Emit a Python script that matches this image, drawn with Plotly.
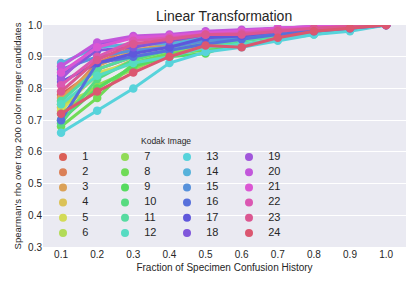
import colorsys
import plotly.graph_objects as go

# ---------------- data ----------------
fractions = [0.1, 0.2, 0.3, 0.4, 0.5, 0.6, 0.7, 0.8, 0.9, 1.0]
image_labels = [str(i) for i in range(1, 25)]

img1 = [0.78, 0.86, 0.90, 0.92, 0.95, 0.96, 0.97, 0.98, 0.99, 1.0]
img2 = [0.76, 0.88, 0.93, 0.95, 0.96, 0.97, 0.98, 0.99, 0.995, 1.0]
img3 = [0.77, 0.87, 0.92, 0.94, 0.95, 0.96, 0.975, 0.985, 0.99, 1.0]
img4 = [0.74, 0.84, 0.89, 0.92, 0.95, 0.96, 0.975, 0.985, 0.99, 1.0]
img5 = [0.73, 0.85, 0.88, 0.91, 0.94, 0.96, 0.97, 0.98, 0.99, 1.0]
img6 = [0.75, 0.80, 0.87, 0.91, 0.94, 0.955, 0.97, 0.98, 0.99, 1.0]
img7 = [0.72, 0.81, 0.86, 0.91, 0.93, 0.95, 0.97, 0.98, 0.99, 1.0]
img8 = [0.68, 0.77, 0.88, 0.91, 0.92, 0.95, 0.965, 0.98, 0.99, 1.0]
img9 = [0.70, 0.80, 0.87, 0.90, 0.91, 0.95, 0.965, 0.98, 0.99, 1.0]
img10 = [0.69, 0.83, 0.89, 0.92, 0.94, 0.96, 0.97, 0.98, 0.99, 1.0]
img11 = [0.76, 0.86, 0.90, 0.92, 0.94, 0.95, 0.965, 0.975, 0.985, 1.0]
img12 = [0.75, 0.84, 0.88, 0.90, 0.93, 0.94, 0.955, 0.97, 0.985, 1.0]
img13 = [0.66, 0.73, 0.80, 0.88, 0.915, 0.93, 0.95, 0.97, 0.98, 1.0]
img14 = [0.88, 0.93, 0.94, 0.94, 0.96, 0.97, 0.98, 0.99, 0.995, 1.0]
img15 = [0.86, 0.90, 0.92, 0.93, 0.95, 0.96, 0.975, 0.985, 0.99, 1.0]
img16 = [0.70, 0.88, 0.90, 0.92, 0.94, 0.955, 0.97, 0.98, 0.99, 1.0]
img17 = [0.82, 0.88, 0.91, 0.93, 0.96, 0.965, 0.98, 0.99, 0.995, 1.0]
img18 = [0.84, 0.92, 0.93, 0.95, 0.97, 0.975, 0.985, 0.99, 0.995, 1.0]
img19 = [0.83, 0.94, 0.96, 0.965, 0.975, 0.98, 0.99, 0.995, 1.0, 1.0]
img20 = [0.87, 0.945, 0.965, 0.97, 0.98, 0.985, 0.99, 0.995, 1.0, 1.0]
img21 = [0.85, 0.93, 0.96, 0.965, 0.975, 0.98, 0.99, 0.995, 1.0, 1.0]
img22 = [0.81, 0.90, 0.95, 0.96, 0.97, 0.975, 0.985, 0.99, 0.995, 1.0]
img23 = [0.79, 0.89, 0.94, 0.955, 0.97, 0.97, 0.98, 0.99, 0.995, 1.0]
img24 = [0.72, 0.79, 0.85, 0.90, 0.935, 0.93, 0.96, 0.98, 0.99, 1.0]

series = [img1, img2, img3, img4, img5, img6, img7, img8, img9, img10, img11, img12,
          img13, img14, img15, img16, img17, img18, img19, img20, img21, img22, img23, img24]

y_ticks = [0.3, 0.4, 0.5, 0.6, 0.7, 0.8, 0.9, 1.0]
legend_title = "Kodak Image"

# ---------------- seaborn-style hls palette ----------------
n = len(series)
colors = []
for i in range(n):
    h = (i / n + 0.01) % 1
    r, g, b = colorsys.hls_to_rgb(h, 0.6, 0.65)
    colors.append("#%02x%02x%02x" % (round(r * 255), round(g * 255), round(b * 255)))

FONT = "Liberation Sans, Arial, sans-serif"
TXT = "#262626"
fig = go.Figure()

for vals, lab, col in zip(series, image_labels, colors):
    fig.add_trace(go.Scatter(
        x=fractions, y=vals, mode="lines+markers", name=lab,
        line=dict(color=col, width=3), marker=dict(color=col, size=8.5),
        showlegend=False, hoverinfo="skip"))

# legend block (4 columns x 6 rows) drawn on a hidden overlay axis
rows_per_col = 6
leg_col = [i // rows_per_col for i in range(n)]
leg_row = [i % rows_per_col for i in range(n)]
fig.add_trace(go.Scatter(
    x=leg_col, y=leg_row, xaxis="x2", yaxis="y2", mode="markers",
    marker=dict(color=colors, size=8), showlegend=False, hoverinfo="skip"))
fig.add_trace(go.Scatter(
    x=[c + 0.31 for c in leg_col], y=leg_row, xaxis="x2", yaxis="y2", mode="text",
    text=image_labels, textposition="middle right",
    textfont=dict(family=FONT, size=11, color=TXT), showlegend=False, hoverinfo="skip"))

fig.update_layout(
    width=415, height=286,
    margin=dict(l=43, r=9, t=25, b=39),
    paper_bgcolor="white", plot_bgcolor="#EAEAF2",
    font=dict(family=FONT, size=10, color=TXT),
    hovermode=False,
    title=dict(text="Linear Transformation", x=0.54, xanchor="center",
               y=0.945, yanchor="middle", font=dict(family=FONT, size=14, color=TXT)),
    xaxis=dict(range=[0.05, 1.055], tickvals=fractions, ticktext=["%.1f" % v for v in fractions],
               showgrid=False, zeroline=False, showline=False, ticks="",
               tickfont=dict(size=10, color=TXT),
               title=dict(text="Fraction of Specimen Confusion History", standoff=4,
                          font=dict(size=10, color=TXT))),
    yaxis=dict(range=[0.3, 1.0], tickvals=y_ticks, ticktext=["%.1f" % v for v in y_ticks],
               showgrid=True, gridcolor="white", gridwidth=1, zeroline=False, showline=False,
               ticks="", tickfont=dict(size=10, color=TXT),
               title=dict(text="Spearman's rho over top 200 color merger candidates", standoff=4,
                          font=dict(size=9.5, color=TXT))),
    xaxis2=dict(overlaying="x", anchor="y2", range=[-0.3226, 5.5323], visible=False,
                fixedrange=True),
    yaxis2=dict(overlaying="y", anchor="x2", range=[5.921, -8.684], visible=False,
                fixedrange=True),
    annotations=[dict(text=legend_title, xref="x2", yref="y2", x=1.66, y=-1.05,
                      xanchor="center", yanchor="middle", showarrow=False,
                      font=dict(family=FONT, size=8.5, color=TXT))],
)

fig.write_html("out.html", config={"displayModeBar": False, "staticPlot": True},
               post_script="document.body.style.margin='0';")
